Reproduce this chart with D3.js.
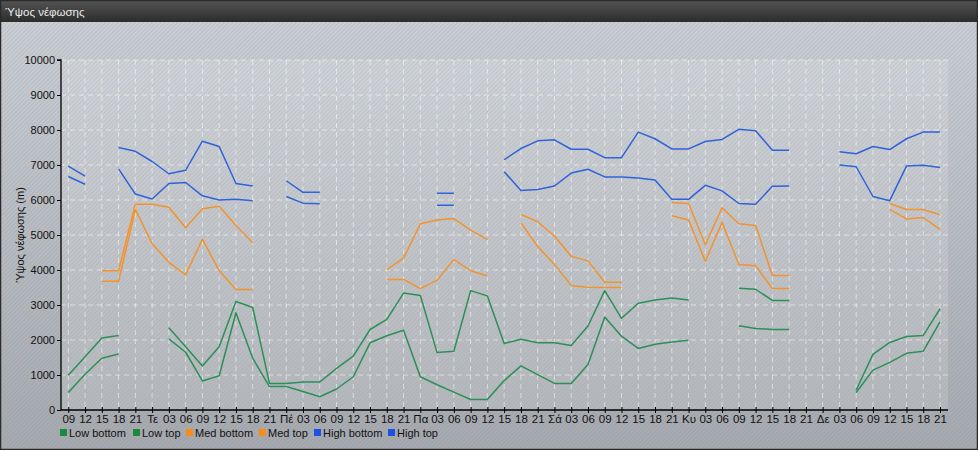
<!DOCTYPE html>
<html><head><meta charset="utf-8">
<script src="https://cdn.jsdelivr.net/npm/d3@7"></script>
<style>
body{margin:0;background:#fff}
svg{display:block}
text{font-family:"Liberation Sans",Arial,sans-serif}
</style>
</head><body>
<svg id="c" width="978" height="450"></svg>
<script>
const title = "Ύψος νέφωσης";
const yTitle = "Ύψος νέφωσης (m)";
const xLabels = ["09","12","15","18","21","Τε","03","06","09","12","15","18","21","Πέ","03","06","09","12","15","18","21","Πα","03","06","09","12","15","18","21","Σά","03","06","09","12","15","18","21","Κυ","03","06","09","12","15","18","21","Δε","03","06","09","12","15","18","21"];
const yTicks = [0,1000,2000,3000,4000,5000,6000,7000,8000,9000,10000];
const N = null;
const lowBottom = [500,1020,1480,1600,N,N,2030,1650,830,980,2780,1480,670,670,530,380,600,950,1920,2120,2280,950,720,510,300,300,840,1260,1010,760,760,1300,2660,2110,1760,1880,1940,1990,N,N,2410,2330,2300,2300,N,N,N,500,1140,1360,1620,1680,2520];
const lowTop = [990,1520,2060,2130,N,N,2350,1810,1260,1810,3100,2930,760,760,800,800,1190,1540,2300,2590,3340,3270,1640,1680,3410,3260,1900,2020,1920,1920,1840,2400,3410,2620,3050,3140,3200,3140,N,N,3480,3450,3130,3130,N,N,N,570,1590,1930,2100,2130,2890];
const medBottom = [N,N,3680,3680,5730,4750,4220,3860,4880,3980,3440,3440,N,N,N,N,N,N,N,3730,3730,3470,3710,4300,3980,3830,N,5350,4670,4160,3560,3510,3500,3500,N,N,5550,5430,4250,5360,4160,4120,3470,3470,N,N,N,N,N,5730,5460,5500,5160];
const medTop = [N,N,3980,3980,5880,5880,5790,5210,5750,5820,5270,4780,N,N,N,N,N,N,N,4010,4340,5320,5430,5470,5140,4870,N,5590,5380,4970,4390,4260,3650,3650,N,N,5930,5900,4720,5780,5320,5270,3840,3840,N,N,N,N,N,5900,5730,5730,5580];
const highBottom = [6670,6450,N,6890,6170,6030,6470,6500,6120,6000,6020,5980,N,6100,5910,5890,N,N,N,N,N,N,5850,5850,N,N,6810,6270,6300,6400,6770,6880,6660,6660,6630,6570,6020,6020,6420,6260,5900,5880,6390,6400,N,N,7000,6950,6100,5980,6970,6990,6930];
const highTop = [6970,6680,N,7500,7390,7100,6750,6850,7680,7530,6470,6400,N,6550,6220,6220,N,N,N,N,N,N,6190,6190,N,N,7150,7470,7690,7720,7450,7450,7210,7210,7940,7750,7460,7460,7670,7730,8020,7980,7420,7420,N,N,7380,7320,7530,7440,7750,7940,7940];

const seriesNames = ["Low bottom","Low top","Med bottom","Med top","High bottom","High top"];
const seriesData = [lowBottom, lowTop, medBottom, medTop, highBottom, highTop];
const lineColors = ["#2b9058","#2b9058","#f2932f","#f2932f","#2f62dc","#2f62dc"];
const legendColors = ["#1b8a3e","#1b8a3e","#ff8c1a","#ff8c1a","#1d50e6","#1d50e6"];

(function(){
const W = 978, H = 450;
const svg = d3.select("#c");
const defs = svg.append("defs");

const bg = defs.append("linearGradient").attr("id","bg").attr("x1",0).attr("y1",0).attr("x2",0).attr("y2",1);
bg.append("stop").attr("offset","0%").attr("stop-color","#cdd1d5");
bg.append("stop").attr("offset","100%").attr("stop-color","#a6a9ad");

const tb = defs.append("linearGradient").attr("id","tb").attr("x1",0).attr("y1",0).attr("x2",0).attr("y2",1);
tb.append("stop").attr("offset","0%").attr("stop-color","#555555");
tb.append("stop").attr("offset","100%").attr("stop-color","#2c2c2c");

const pat = defs.append("pattern").attr("id","stripes").attr("width",3).attr("height",3)
  .attr("patternUnits","userSpaceOnUse").attr("patternTransform","rotate(45)");
pat.append("rect").attr("width",1).attr("height",3).attr("fill","#7d8a99").attr("opacity",0.22);

svg.append("rect").attr("width",W).attr("height",H).attr("fill","url(#bg)");
svg.append("rect").attr("width",W).attr("height",H).attr("fill","url(#stripes)");

svg.append("rect").attr("x",0).attr("y",0).attr("width",W).attr("height",22).attr("fill","url(#tb)");
svg.append("text").attr("x",5).attr("y",16).attr("fill","#ececec").attr("font-size",11.5).text(title);

svg.append("rect").attr("x",0.5).attr("y",0.5).attr("width",W-1).attr("height",H-1)
  .attr("fill","none").attr("stroke","#2a2a2a").attr("stroke-width",1.5);

const pL = 61, pR = 948, pT = 60, pB = 410;
const x = d3.scaleLinear().domain([0, xLabels.length-1]).range([68.3, 940]);
const y = d3.scaleLinear().domain([0,10000]).range([pB, pT]);

svg.append("rect").attr("x",pL).attr("y",pT).attr("width",pR-pL).attr("height",pB-pT)
  .attr("fill","#ffffff").attr("opacity",0.14);

const g = svg.append("g");
g.selectAll("line.h").data(yTicks.filter(d=>d>0)).join("line").attr("class","h")
  .attr("x1",pL).attr("x2",pR).attr("y1",d=>y(d)).attr("y2",d=>y(d))
  .attr("stroke","#ffffff").attr("stroke-opacity",0.5).attr("stroke-dasharray","5,4");
g.selectAll("line.v").data(d3.range(xLabels.length)).join("line").attr("class","v")
  .attr("x1",d=>x(d)).attr("x2",d=>x(d)).attr("y1",pT).attr("y2",pB)
  .attr("stroke","#ffffff").attr("stroke-opacity",0.5).attr("stroke-dasharray","5,4");

const yAxis = d3.axisLeft(y).tickValues(yTicks).tickSize(4).tickPadding(2).tickFormat(d3.format("d"));
const ya = svg.append("g").attr("transform",`translate(${pL},0)`).call(yAxis);
ya.select(".domain").attr("d",`M-4,${pT}H0V${pB}`).attr("stroke","#000").attr("stroke-width",1.3);
ya.selectAll("text").attr("font-size",11).attr("fill","#111").attr("font-family","Liberation Sans, Arial, sans-serif");

const xAxis = d3.axisBottom(x).tickValues(d3.range(xLabels.length)).tickSize(3).tickPadding(2).tickFormat(i=>xLabels[i]);
const xa = svg.append("g").attr("transform",`translate(0,${pB})`).call(xAxis);
xa.select(".domain").attr("d",`M${pL},0H${pR}`).attr("stroke","#000").attr("stroke-width",1.3);
xa.selectAll(".tick line").attr("y1",-3).attr("y2",3);
xa.selectAll("text").attr("font-size",11.5).attr("fill","#111").attr("font-family","Liberation Sans, Arial, sans-serif");

svg.append("text").attr("transform",`translate(24,${(pT+pB)/2}) rotate(-90)`)
  .attr("text-anchor","middle").attr("font-size",11).attr("fill","#111").text(yTitle);

const line = d3.line().defined(d=>d!=null).x((d,i)=>x(i)).y(d=>y(d));
svg.append("g").selectAll("path").data(seriesData).join("path")
  .attr("d",d=>line(d)).attr("fill","none")
  .attr("stroke",(d,i)=>lineColors[i]).attr("stroke-width",1.5).attr("stroke-linejoin","round");

const legX = [60,133,186,259,314,388];
const lg = svg.append("g");
seriesNames.forEach((n,i)=>{
  lg.append("rect").attr("x",legX[i]).attr("y",429).attr("width",7).attr("height",7).attr("fill",legendColors[i]);
  lg.append("text").attr("x",legX[i]+9).attr("y",437).attr("font-size",11).attr("fill","#111").text(n);
});
})();
</script>
</body></html>
